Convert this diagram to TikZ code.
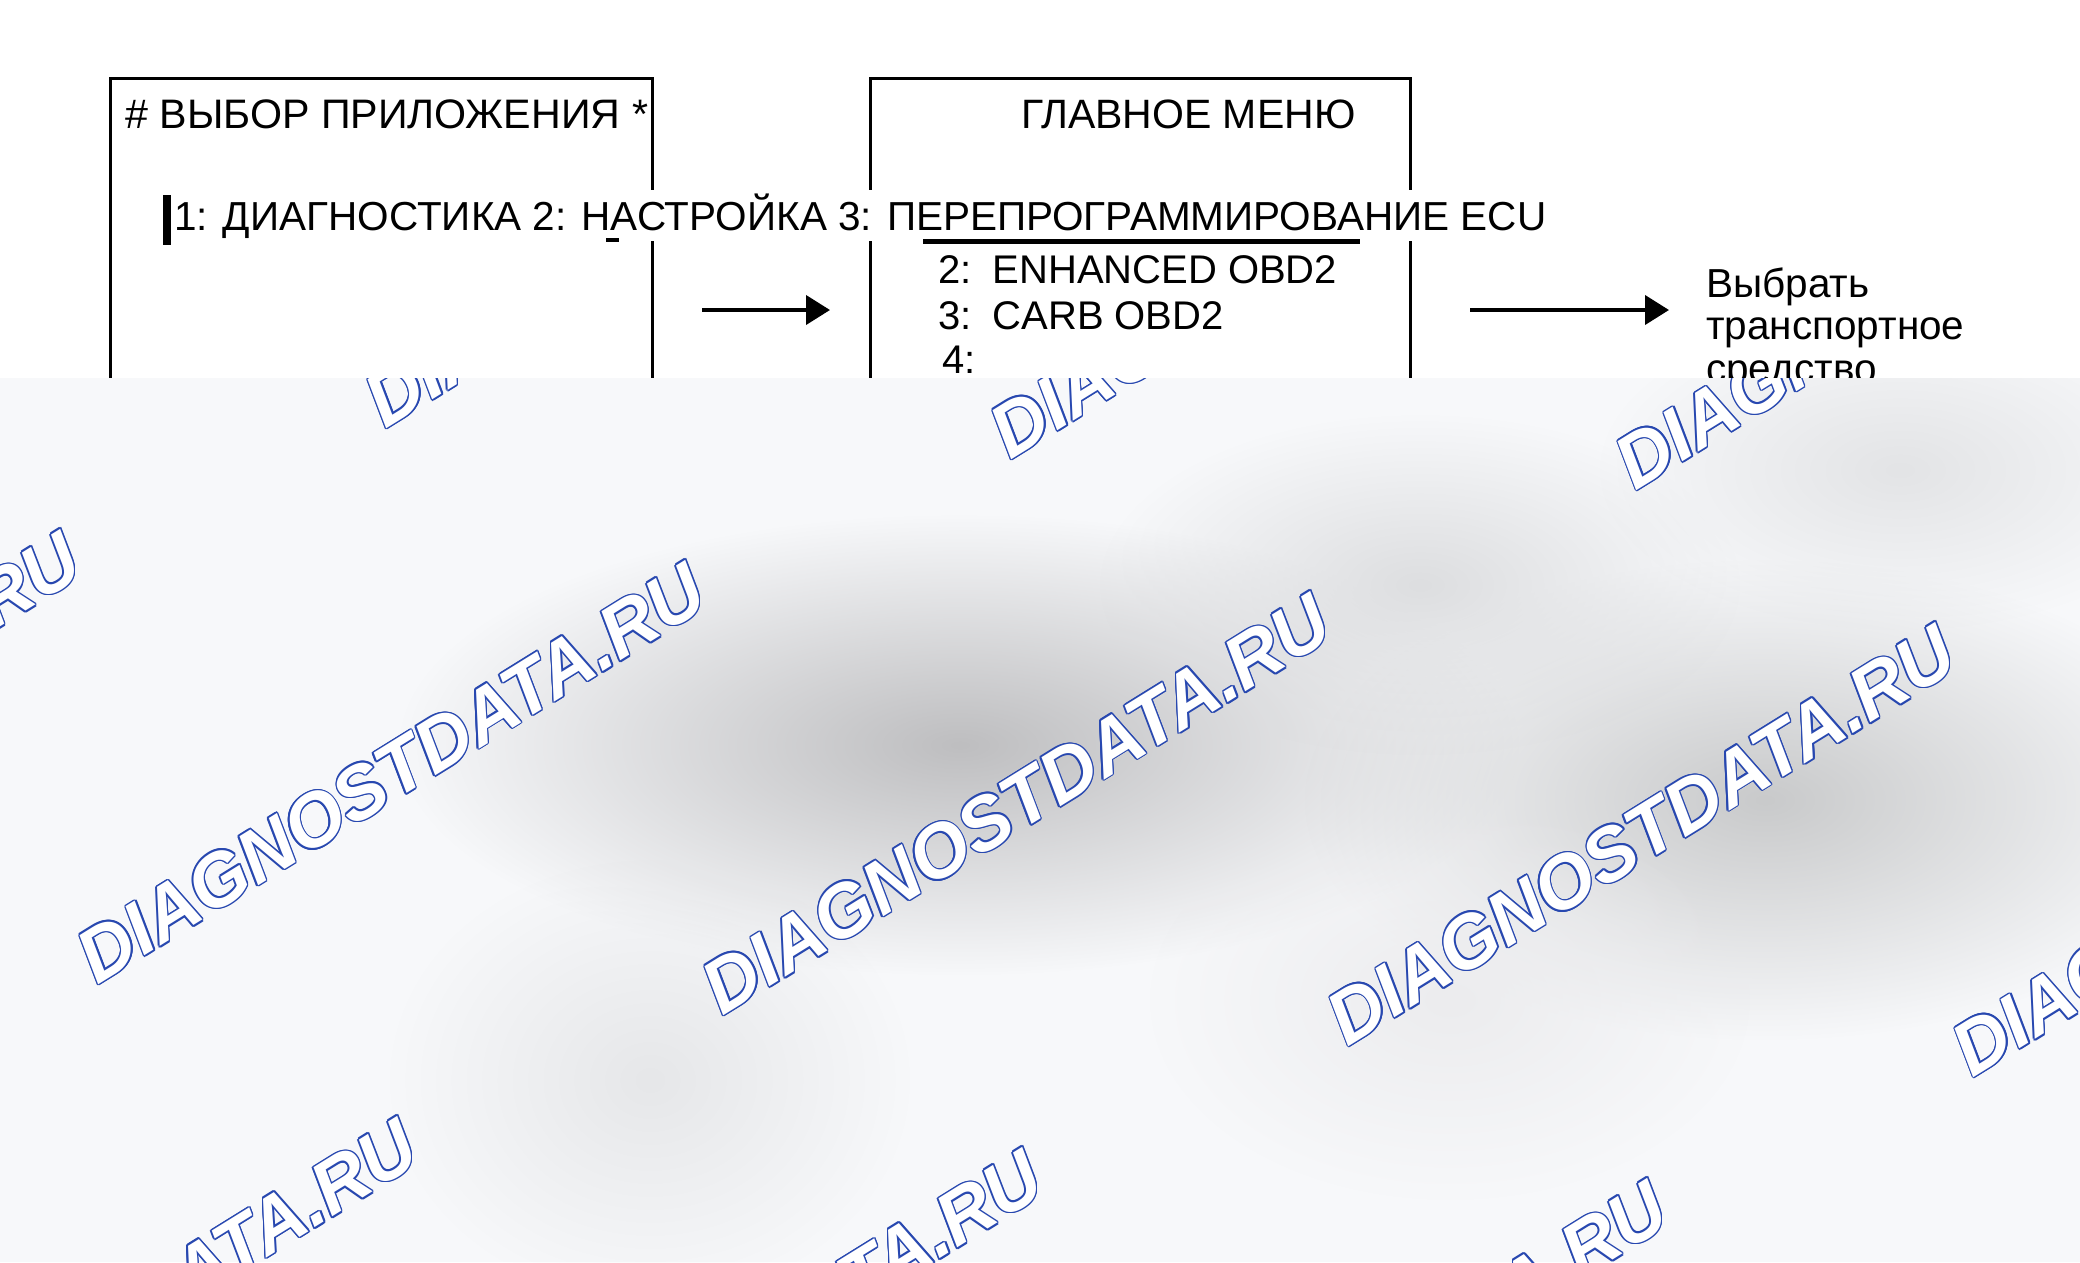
\documentclass[tikz,border=0pt]{standalone}
\usepackage{fontspec}
\setmainfont{Liberation Sans}
\usepackage{tikz}
\usetikzlibrary{arrows.meta, calc, fadings}

\definecolor{wmblue}{RGB}{40,72,176}
\definecolor{haze}{RGB}{247,248,250}
\definecolor{smudge}{RGB}{190,190,192}

\tikzfading[name=smudgefade, inner color=transparent!0, outer color=transparent!100]

\tikzset{
  screen/.style={draw=black, line width=3pt, inner sep=0pt, anchor=north west},
  scrtext/.style={inner sep=0pt, anchor=base west, font=\fontsize{40.5}{42.5}\selectfont},
  menutext/.style={inner sep=0pt, anchor=base west, font=\fontsize{40}{44}\selectfont},
  flow/.style={line width=4pt, -{Triangle[length=24pt, width=29pt]}},
  wmark/.style={inner sep=0pt, rotate=31.8, font=\fontsize{75}{80}\bfseries\itshape\selectfont}
}

\begin{document}
\begin{tikzpicture}[x=1pt, y=-1pt]
\useasboundingbox (0,0) rectangle (2080,1262);
\fill[white] (0,0) rectangle (2080,1262);

%draw screens
\node[screen, minimum width=542pt, minimum height=360pt] (appbox) at (109,77) {};
\node[screen, minimum width=540pt, minimum height=360pt] (menubox) at (869,77) {};

%screen titles
\node[scrtext, font=\fontsize{41.2}{44}\selectfont] (apptitle) at (125,128) {\# ВЫБОР ПРИЛОЖЕНИЯ *};
\node[scrtext, font=\fontsize{41}{44}\selectfont] (menutitle) at (1021,128) {ГЛАВНОЕ МЕНЮ};

%application line over both screens
\node[scrtext, fill=white, inner sep=3pt] (modes) at (171,230) {1: ДИАГНОСТИКА 2: НАСТРОЙКА 3: ПЕРЕПРОГРАММИРОВАНИЕ ECU};
\fill (163,195) rectangle (171,245);
\fill (606,238) rectangle (619,242);
\fill (923,239) rectangle (1360,244);

%menu items
\node[menutext] (enhanced) at (938,283) {2:\hskip21pt ENHANCED OBD2};
\node[menutext] (carb) at (938,329) {3:\hskip21pt CARB OBD2};
\node[menutext] (four) at (942,373) {4:};

%next step
\node[scrtext, align=left] (vehicle) at (1706,382) {Выбрать\\транспортное\\средство};

%draw arrows
\coordinate (go1) at (702,310);
\coordinate (to1) at (830,310);
\coordinate (go2) at (1470,310);
\coordinate (to2) at (1669,310);
\draw[flow] (go1) -- (to1);
\draw[flow] (go2) -- (to2);

%grey overlay with watermarks
\begin{scope}
\clip (0,378) rectangle (2080,1262);
\fill[haze] (0,378) rectangle (2080,1262);
\fill[smudge, path fading=smudgefade] (960,745) ellipse (560 and 230);
\fill[smudge!80!haze, path fading=smudgefade] (1765,800) ellipse (460 and 240);
\fill[smudge!45!haze, path fading=smudgefade] (1420,585) ellipse (320 and 170);
\fill[smudge!35!haze, path fading=smudgefade] (1900,470) ellipse (300 and 160);
\fill[smudge!30!haze, path fading=smudgefade] (650,1080) ellipse (260 and 220);
\fill[smudge!20!haze, path fading=smudgefade] (1450,1000) ellipse (300 and 200);
\foreach \i in {-1,...,3} {
  \foreach \j in {-1,0,1} {
    \pgfmathsetmacro{\cx}{391+625*\i+288*\j}
    \pgfmathsetmacro{\cy}{773+31*\i-556*\j}
    \foreach \a in {0,30,...,330}
      \node[wmark, text=wmblue] at ($(\cx,\cy)+(\a:1.5)$) {DIAGNOSTDATA.RU};
    \node[wmark, text=white] (wm\i\j) at (\cx,\cy) {DIAGNOSTDATA.RU};
  }
}
\end{scope}
\end{tikzpicture}
\end{document}
